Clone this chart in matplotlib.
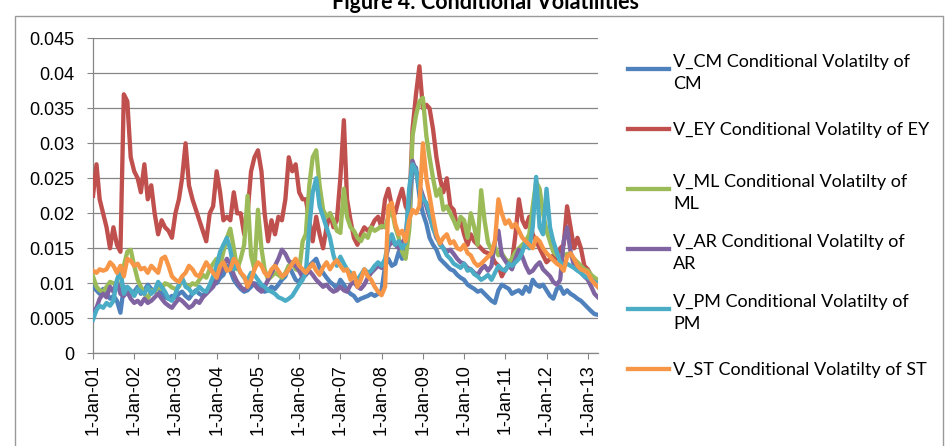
import numpy as np
import pandas as pd
import matplotlib
matplotlib.use('Agg')
import matplotlib.pyplot as plt
import matplotlib.dates as mdates
from matplotlib.lines import Line2D
from matplotlib.patches import Rectangle
from matplotlib.ticker import FuncFormatter, MultipleLocator

# monthly readings, Jan 2001 .. Apr 2013 (one row per year)
vol_cm = [
    0.0095, 0.009, 0.0085, 0.0092, 0.0085, 0.0078, 0.0082, 0.0075, 0.0058, 0.0095, 0.0092, 0.0085,
    0.0088, 0.0095, 0.0085, 0.009, 0.0098, 0.0092, 0.0088, 0.0095, 0.0085, 0.008, 0.0078, 0.0082,
    0.008, 0.0085, 0.0088, 0.0082, 0.0078, 0.0085, 0.009, 0.0085, 0.0082, 0.0088, 0.0095, 0.0105,
    0.010, 0.0108, 0.0112, 0.0125, 0.0118, 0.0105, 0.0098, 0.0092, 0.0088, 0.009, 0.0095, 0.010,
    0.0098, 0.0092, 0.0088, 0.009, 0.0095, 0.0092, 0.0098, 0.0105, 0.011, 0.0125, 0.0115, 0.0105,
    0.0102, 0.011, 0.0118, 0.0125, 0.013, 0.0135, 0.0122, 0.0115, 0.0108, 0.0102, 0.0098, 0.0092,
    0.0105, 0.0098, 0.009, 0.0085, 0.0082, 0.0075, 0.0078, 0.008, 0.0082, 0.0085, 0.0082, 0.0085,
    0.009, 0.0125, 0.0135, 0.0125, 0.0128, 0.0145, 0.0135, 0.015, 0.018, 0.027, 0.0265, 0.0225,
    0.020, 0.0185, 0.0165, 0.0155, 0.0148, 0.0135, 0.013, 0.0125, 0.012, 0.0118, 0.0112, 0.0108,
    0.0105, 0.0098, 0.0095, 0.0092, 0.0088, 0.009, 0.0085, 0.008, 0.0075, 0.0072, 0.009, 0.0098,
    0.0095, 0.0092, 0.0085, 0.0088, 0.009, 0.0085, 0.0095, 0.0088, 0.0105, 0.0098, 0.0095, 0.0098,
    0.009, 0.0082, 0.0078, 0.0092, 0.0095, 0.0085, 0.009, 0.0085, 0.0082, 0.0078, 0.0075, 0.007,
    0.0065, 0.006, 0.0056, 0.0055,
]
vol_ey = [
    0.0225, 0.027, 0.022, 0.020, 0.018, 0.015, 0.018, 0.0155, 0.0145, 0.037, 0.036, 0.028,
    0.026, 0.025, 0.023, 0.027, 0.022, 0.024, 0.020, 0.017, 0.019, 0.018, 0.0175, 0.0165,
    0.020, 0.022, 0.025, 0.030, 0.024, 0.022, 0.0205, 0.019, 0.0175, 0.016, 0.020, 0.021,
    0.026, 0.023, 0.019, 0.0195, 0.019, 0.023, 0.020, 0.020, 0.017, 0.020, 0.026, 0.028,
    0.029, 0.026, 0.020, 0.016, 0.019, 0.017, 0.0195, 0.019, 0.022, 0.028, 0.026, 0.027,
    0.023, 0.022, 0.022, 0.019, 0.016, 0.0195, 0.017, 0.015, 0.018, 0.020, 0.018, 0.019,
    0.025, 0.0333, 0.022, 0.019, 0.0165, 0.0155, 0.017, 0.018, 0.0175, 0.018, 0.019, 0.0195,
    0.018, 0.022, 0.0235, 0.021, 0.020, 0.022, 0.0235, 0.021, 0.020, 0.032, 0.037, 0.041,
    0.035, 0.0355, 0.035, 0.032, 0.028, 0.025, 0.023, 0.025, 0.021, 0.0205, 0.018, 0.019,
    0.017, 0.0155, 0.017, 0.016, 0.0155, 0.015, 0.0145, 0.0143, 0.014, 0.013, 0.0125, 0.011,
    0.012, 0.0125, 0.013, 0.017, 0.022, 0.019, 0.018, 0.0195, 0.017, 0.016, 0.015, 0.014,
    0.013, 0.0135, 0.014, 0.0135, 0.015, 0.0155, 0.021, 0.018, 0.015, 0.0165, 0.015, 0.0125,
    0.012, 0.011, 0.010, 0.0095,
]
vol_ml = [
    0.011, 0.0095, 0.009, 0.0088, 0.0095, 0.0102, 0.010, 0.0098, 0.0092, 0.0125, 0.0145, 0.0148,
    0.0125, 0.0105, 0.0095, 0.0085, 0.0078, 0.009, 0.0088, 0.0095, 0.0092, 0.010, 0.0098, 0.0094,
    0.0092, 0.0095, 0.0105, 0.0098, 0.0095, 0.010, 0.0098, 0.0105, 0.0112, 0.0108, 0.012, 0.0128,
    0.0135, 0.0125, 0.0145, 0.0165, 0.0178, 0.015, 0.012, 0.0135, 0.0155, 0.0225, 0.014, 0.012,
    0.0205, 0.015, 0.012, 0.0105, 0.011, 0.0115, 0.0112, 0.0108, 0.0115, 0.0125, 0.013, 0.012,
    0.0118, 0.016, 0.017, 0.024, 0.028, 0.029, 0.024, 0.0205, 0.0195, 0.020, 0.019, 0.0175,
    0.0172, 0.0235, 0.0195, 0.018, 0.0175, 0.0165, 0.016, 0.017, 0.0165, 0.018, 0.0175, 0.0178,
    0.0182, 0.018, 0.0195, 0.0205, 0.018, 0.0165, 0.0145, 0.0135, 0.0175, 0.031, 0.034, 0.036,
    0.0365, 0.031, 0.028, 0.025, 0.0225, 0.0235, 0.0205, 0.021, 0.020, 0.019, 0.0178, 0.0195,
    0.019, 0.0165, 0.020, 0.018, 0.0155, 0.0233, 0.019, 0.0158, 0.0148, 0.0152, 0.014, 0.0143,
    0.0135, 0.013, 0.0135, 0.0145, 0.015, 0.0155, 0.016, 0.017, 0.021, 0.0245, 0.0235, 0.020,
    0.0175, 0.016, 0.0145, 0.014, 0.0138, 0.014, 0.0142, 0.014, 0.0135, 0.013, 0.0125, 0.012,
    0.0118, 0.0112, 0.0108, 0.0105,
]
vol_ar = [
    0.006, 0.0065, 0.0078, 0.0085, 0.008, 0.0095, 0.0088, 0.0102, 0.0085, 0.0082, 0.0088, 0.0078,
    0.0072, 0.0075, 0.007, 0.0078, 0.0072, 0.0075, 0.008, 0.0085, 0.0078, 0.0072, 0.0068, 0.0065,
    0.0072, 0.0078, 0.0075, 0.007, 0.0065, 0.0068, 0.0075, 0.0072, 0.008, 0.0085, 0.009, 0.0095,
    0.0105, 0.0115, 0.0125, 0.0135, 0.0128, 0.0112, 0.0102, 0.0095, 0.009, 0.0095, 0.0102, 0.0098,
    0.0092, 0.0088, 0.0095, 0.0105, 0.0115, 0.0125, 0.0135, 0.0148, 0.0142, 0.0132, 0.0128, 0.0125,
    0.0118, 0.0108, 0.0112, 0.0118, 0.0112, 0.0105, 0.010, 0.0095, 0.0098, 0.0092, 0.0088, 0.009,
    0.0095, 0.009, 0.0088, 0.0098, 0.0102, 0.0095, 0.0092, 0.0098, 0.0108, 0.0115, 0.012, 0.0125,
    0.0122, 0.013, 0.0152, 0.016, 0.0155, 0.015, 0.0158, 0.0165, 0.022, 0.0275, 0.026, 0.024,
    0.0225, 0.021, 0.0195, 0.018, 0.0165, 0.0158, 0.015, 0.0145, 0.0148, 0.0142, 0.0135, 0.013,
    0.0128, 0.0122, 0.012, 0.0115, 0.0112, 0.012, 0.0125, 0.0118, 0.0125, 0.016, 0.0175, 0.014,
    0.0132, 0.0125, 0.012, 0.0135, 0.0148, 0.0138, 0.0125, 0.0115, 0.0118, 0.0125, 0.013, 0.012,
    0.0115, 0.011, 0.0102, 0.0098, 0.0105, 0.016, 0.018, 0.0145, 0.0125, 0.012, 0.0115, 0.011,
    0.0105, 0.0095, 0.0085, 0.008,
]
vol_pm = [
    0.0048, 0.0062, 0.0068, 0.0065, 0.0072, 0.0068, 0.0075, 0.0105, 0.0118, 0.0085, 0.0095, 0.009,
    0.0082, 0.0092, 0.0088, 0.0085, 0.0095, 0.0085, 0.009, 0.0102, 0.0095, 0.0088, 0.0078, 0.0075,
    0.0085, 0.0098, 0.0108, 0.0095, 0.0092, 0.0085, 0.0088, 0.0095, 0.009, 0.0088, 0.0098, 0.011,
    0.0125, 0.0145, 0.0155, 0.0165, 0.0148, 0.012, 0.0125, 0.0115, 0.0108, 0.0105, 0.0115, 0.0112,
    0.0105, 0.0098, 0.0095, 0.009, 0.0088, 0.0085, 0.008, 0.0078, 0.0075, 0.0078, 0.0082, 0.009,
    0.0098, 0.0105, 0.0115, 0.018, 0.023, 0.025, 0.021, 0.0195, 0.018, 0.0165, 0.014, 0.0125,
    0.0138, 0.0128, 0.012, 0.0115, 0.011, 0.0105, 0.0112, 0.012, 0.0115, 0.0118, 0.0125, 0.013,
    0.0125, 0.0135, 0.016, 0.017, 0.0155, 0.016, 0.015, 0.0158, 0.0235, 0.027, 0.026, 0.0235,
    0.022, 0.0215, 0.020, 0.0178, 0.0168, 0.0155, 0.015, 0.014, 0.0135, 0.0128, 0.0125, 0.0122,
    0.0128, 0.0118, 0.012, 0.0113, 0.011, 0.0105, 0.0108, 0.0112, 0.0105, 0.0115, 0.0125, 0.012,
    0.0118, 0.0128, 0.0125, 0.013, 0.0135, 0.0145, 0.016, 0.015, 0.018, 0.0252, 0.018, 0.017,
    0.0235, 0.018, 0.016, 0.0145, 0.013, 0.0125, 0.0128, 0.0125, 0.0122, 0.0118, 0.0115, 0.011,
    0.0108, 0.0105, 0.0102, 0.010,
]
vol_st = [
    0.0118, 0.0115, 0.012, 0.0118, 0.012, 0.013, 0.0125, 0.0115, 0.0125, 0.011, 0.0135, 0.0132,
    0.0125, 0.0128, 0.012, 0.0122, 0.0115, 0.0125, 0.012, 0.0115, 0.0135, 0.0138, 0.0125, 0.011,
    0.0105, 0.0102, 0.011, 0.0115, 0.0125, 0.012, 0.0112, 0.011, 0.012, 0.013, 0.0122, 0.0115,
    0.0108, 0.0125, 0.013, 0.0118, 0.012, 0.0135, 0.0128, 0.0115, 0.011, 0.0095, 0.0105, 0.012,
    0.013, 0.0125, 0.0115, 0.011, 0.012, 0.0125, 0.0118, 0.011, 0.0113, 0.012, 0.0128, 0.0135,
    0.0125, 0.012, 0.0115, 0.0122, 0.0128, 0.0118, 0.0112, 0.0123, 0.013, 0.012, 0.0128, 0.0133,
    0.0125, 0.0118, 0.012, 0.0105, 0.0115, 0.0095, 0.0105, 0.012, 0.011, 0.0105, 0.0095, 0.0088,
    0.0083, 0.0095, 0.021, 0.0215, 0.0185, 0.017, 0.0175, 0.016, 0.019, 0.0205, 0.020, 0.021,
    0.030, 0.025, 0.0225, 0.0195, 0.017, 0.0157, 0.0165, 0.017, 0.0157, 0.016, 0.015, 0.0148,
    0.0155, 0.0143, 0.014, 0.013, 0.0125, 0.0128, 0.0133, 0.0138, 0.0143, 0.016, 0.022, 0.020,
    0.0185, 0.019, 0.018, 0.0185, 0.0175, 0.0165, 0.016, 0.0155, 0.015, 0.0165, 0.016, 0.015,
    0.0143, 0.0138, 0.0133, 0.0128, 0.0125, 0.0118, 0.0138, 0.0143, 0.0135, 0.0125, 0.012, 0.0118,
    0.0115, 0.0105, 0.010, 0.0095,
]

labels = [
    'V_CM Conditional Volatilty of\nCM',
    'V_EY Conditional Volatilty of EY',
    'V_ML Conditional Volatilty of\nML',
    'V_AR Conditional Volatilty of\nAR',
    'V_PM Conditional Volatilty of\nPM',
    'V_ST Conditional Volatilty of ST',
]
colors = ['#4F81BD', '#C0504D', '#9BBB59', '#8064A2', '#4BACC6', '#F79646']
series = [vol_cm, vol_ey, vol_ml, vol_ar, vol_pm, vol_st]

dates = pd.date_range('2001-01-01', periods=len(vol_cm), freq='MS')

W, H = 950, 446
fig = plt.figure(figsize=(W / 100, H / 100), dpi=100)
ax = fig.add_axes([93 / W, 1 - 353.3 / H, 505 / W, 315 / H])

for vals, c in zip(series, colors):
    ax.plot(dates, vals, color=c, lw=3.1, solid_joinstyle='round', zorder=3)

grid_c = '#868686'
ax.set_ylim(0, 0.045)
ax.yaxis.set_major_locator(MultipleLocator(0.005))
ax.yaxis.set_major_formatter(FuncFormatter(lambda v, p: f'{v:g}'))
ax.grid(axis='y', color=grid_c, lw=0.9, zorder=0)
ax.set_xlim(dates[0], dates[-1])
ax.xaxis.set_major_locator(mdates.YearLocator())
ax.xaxis.set_major_formatter(FuncFormatter(
    lambda x, p: '{}-{}'.format(mdates.num2date(x).day, mdates.num2date(x).strftime('%b-%y'))))

for s in ['top', 'right']:
    ax.spines[s].set_visible(False)
for s in ['left', 'bottom']:
    ax.spines[s].set_color(grid_c)
    ax.spines[s].set_linewidth(0.9)

ax.tick_params(axis='y', direction='out', length=4.5, color=grid_c, pad=9,
               labelsize=13, labelfontfamily='Liberation Sans')
ax.tick_params(axis='x', direction='out', length=4, color=grid_c, pad=4,
               labelsize=13, labelfontfamily='Liberation Sans', labelrotation=90)

# title, its top runs off the page as in the source image
fig.text(486 / W, 1 - 9 / H, 'Figure 4: Conditional Volatilities', ha='center',
         va='baseline', fontsize=15.5, fontweight='bold', family='Lato')

# chart area border
fig.add_artist(Rectangle((15 / W, -0.05), (943 - 15) / W, 1 - 16 / H + 0.05,
                         transform=fig.transFigure, fill=False, ec='#9a9a9a', lw=1))

# legend drawn by hand so the key sits on the first text line
y0 = 69
for i, (lab, c) in enumerate(zip(labels, colors)):
    y = 1 - (y0 + 60 * i) / H
    fig.add_artist(Line2D([628 / W, 669 / W], [y, y], color=c, lw=3.1,
                          transform=fig.transFigure))
    fig.text(673 / W, y, lab, ha='left', va='center_baseline', fontsize=13,
             family='Lato', linespacing=1.45)

fig.savefig('out.png', dpi=100)
